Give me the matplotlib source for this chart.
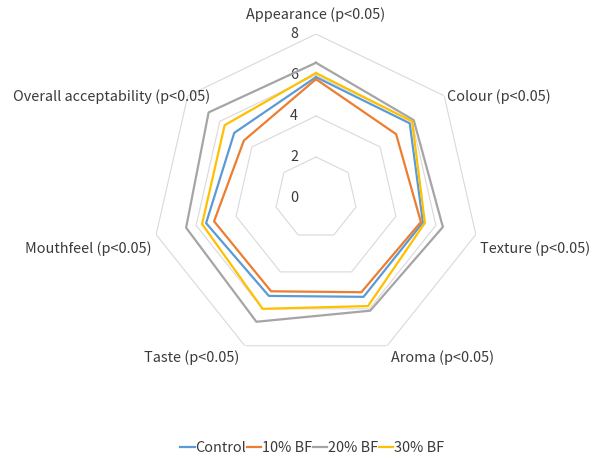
import matplotlib

matplotlib.use("Agg")
import matplotlib.pyplot as plt
import numpy as np

plt.rcParams["font.family"] = ["Noto Sans CJK KR", "DejaVu Sans"]

kategorie = ["Appearance (p<0.05)", "Colour (p<0.05)", "Texture (p<0.05)",
             "Aroma (p<0.05)", "Taste (p<0.05)", "Mouthfeel (p<0.05)",
             "Overall acceptability (p<0.05)"]
control = [5.9, 5.85, 5.35, 5.35, 5.3, 5.5, 5.1]
bf10 = [5.8, 5.0, 5.25, 5.1, 5.05, 5.1, 4.5]
bf20 = [6.6, 6.1, 6.35, 6.1, 6.7, 6.5, 6.7]
bf30 = [6.1, 6.0, 5.45, 5.85, 6.0, 5.7, 5.7]
serie = ["Control", "10% BF", "20% BF", "30% BF"]
kolory = ["#5B9BD5", "#ED7D31", "#A5A5A5", "#FFC000"]
poziomy = [0, 2, 4, 6, 8]

n = len(kategorie)
katy = np.arange(n) * 2 * np.pi / n
katy_z = np.append(katy, katy[0])

fig = plt.figure(figsize=(5.98, 4.57), dpi=100)
ax = fig.add_axes([0.5284 - 0.2742, 0.5667 - 0.3589, 0.5484, 0.7177],
                  projection="polar")
ax.set_theta_zero_location("N")
ax.set_theta_direction(-1)
ax.set_ylim(0, 8)
ax.grid(False)
ax.spines["polar"].set_visible(False)
ax.set_xticks([])
ax.set_yticks([])
ax.patch.set_alpha(0)

tekst = "#3A3A3A"
rozmiar = 10.4
for p in poziomy[1:]:
    ax.plot(katy_z, [p] * (n + 1), color="#D9D9D9", lw=0.8, zorder=1)
for p in poziomy:
    ax.annotate(str(p), xy=(0, p), xytext=(-22, 0), textcoords="offset pixels",
                ha="center", va="center", fontsize=rozmiar, color=tekst)

for dane, nazwa, kolor in zip([control, bf10, bf20, bf30], serie, kolory):
    ax.plot(katy_z, dane + dane[:1], color=kolor, lw=1.6, label=nazwa, zorder=3)

# polozenie etykiet kategorii wzgledem wierzcholkow
przesuniecia = [(0, 19, "center"), (3, -1, "left"), (4, -14, "left"),
                (4, -12, "left"), (-5, -12, "right"), (-4, -14, "right"),
                (22, -1, "right")]
for kat, etykieta, (dx, dy, ha) in zip(katy, kategorie, przesuniecia):
    ax.annotate(etykieta, xy=(kat, 8), xytext=(dx, dy), textcoords="offset pixels",
                ha=ha, va="center", fontsize=rozmiar, color=tekst)

fig.legend(loc="center", bbox_to_anchor=(0.522, 1 - 448 / 457), ncol=4,
           frameon=False, fontsize=rozmiar, handlelength=1.0, handletextpad=0.05,
           columnspacing=0.05, labelcolor=tekst)

fig.savefig("out.png", dpi=100)
plt.close(fig)
